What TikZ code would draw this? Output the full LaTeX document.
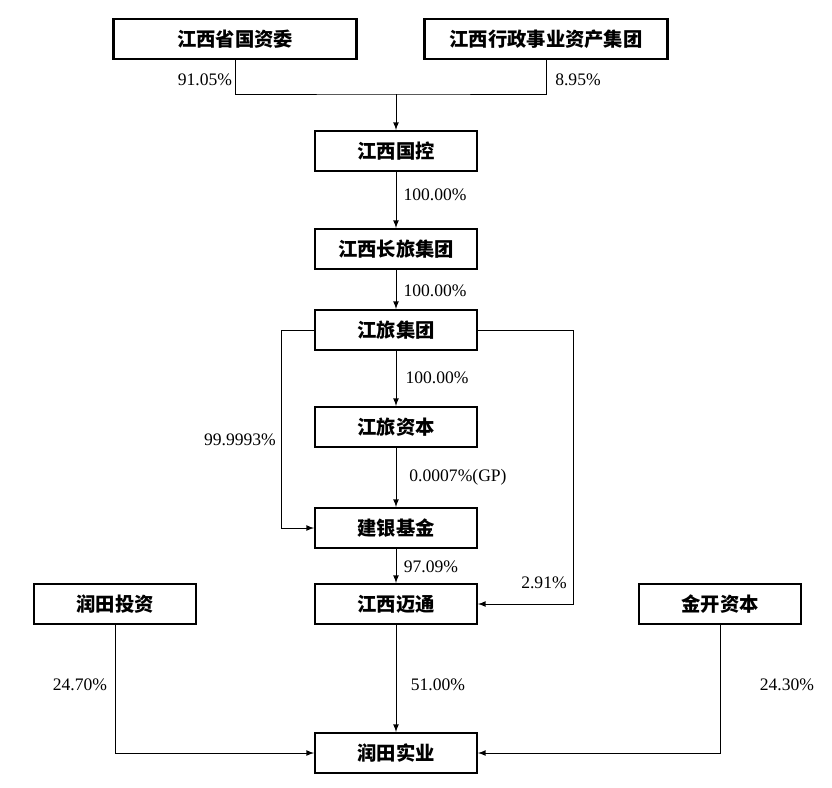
\documentclass[tikz,border=0pt]{standalone}
\usepackage{fontspec}
\setmainfont{Liberation Serif}
\newfontfamily\cjk{Noto Sans CJK SC}
\usetikzlibrary{arrows,positioning}

\begin{document}
\begin{tikzpicture}[
        x=0.02cm, y=-0.02cm, % 像素坐标
        >=latex,
        box/.style={draw, line width=1.2pt, minimum width=3.24cm, minimum height=0.8cm, font=\cjk\bfseries\fontsize{11}{13}\selectfont},
        pct/.style={font=\fontsize{10}{12}\selectfont},
        link/.style={line width=0.5pt}
      ]
      \useasboundingbox (0,0) rectangle (832,788);
      %% node
      \node[box, minimum width=4.86cm] (sasac) at (235,39) {江西省国资委};
      \node[box, minimum width=4.86cm] (xz) at (546,39) {江西行政事业资产集团};
      \node[box] (gk) at (396,151) {江西国控};
      \node[box] (cl) at (396,249) {江西长旅集团};
      \node[box] (jl) at (396,330) {江旅集团};
      \node[box] (jlzb) at (396,427) {江旅资本};
      \node[box] (jy) at (396,528) {建银基金};
      \node[box] (mt) at (396,604) {江西迈通};
      \node[box] (rttz) at (115,604) {润田投资};
      \node[box] (jk) at (720,604) {金开资本};
      \node[box] (rt) at (396,753) {润田实业};
      \coordinate (join) at (396,94);
      %% path
      \draw[link] (sasac.south) |- (join) -| (xz.south);
      \draw[link,->] (join) -- (gk.north);
      \draw[link,->] (gk) -- (cl);
      \draw[link,->] (cl) -- (jl);
      \draw[link,->] (jl) -- (jlzb);
      \draw[link,->] (jlzb) -- (jy);
      \draw[link,->] (jy) -- (mt);
      \draw[link,->] (mt) -- (rt);
      \draw[link,->] (jl.west) -- ++(-33,0) |- (jy.west);
      \draw[link,->] (jl.east) -- ++(95,0) |- (mt.east);
      \draw[link,->] (rttz.south) |- (rt.west);
      \draw[link,->] (jk.south) |- (rt.east);
      %% labels
      \node[pct] (p1) at (205,80) {91.05\%};
      \node[pct] (p2) at (578,80) {8.95\%};
      \node[pct] (p3) at (435,195) {100.00\%};
      \node[pct] (p4) at (435,291) {100.00\%};
      \node[pct] (p5) at (437,378) {100.00\%};
      \node[pct] (p6) at (240,440) {99.9993\%};
      \node[pct] (p7) at (458,477) {0.0007\%(GP)};
      \node[pct] (p8) at (431,567) {97.09\%};
      \node[pct] (p9) at (544,583) {2.91\%};
      \node[pct] (p10) at (80,685) {24.70\%};
      \node[pct] (p11) at (438,685) {51.00\%};
      \node[pct] (p12) at (787,685) {24.30\%};
\end{tikzpicture}
\end{document}
